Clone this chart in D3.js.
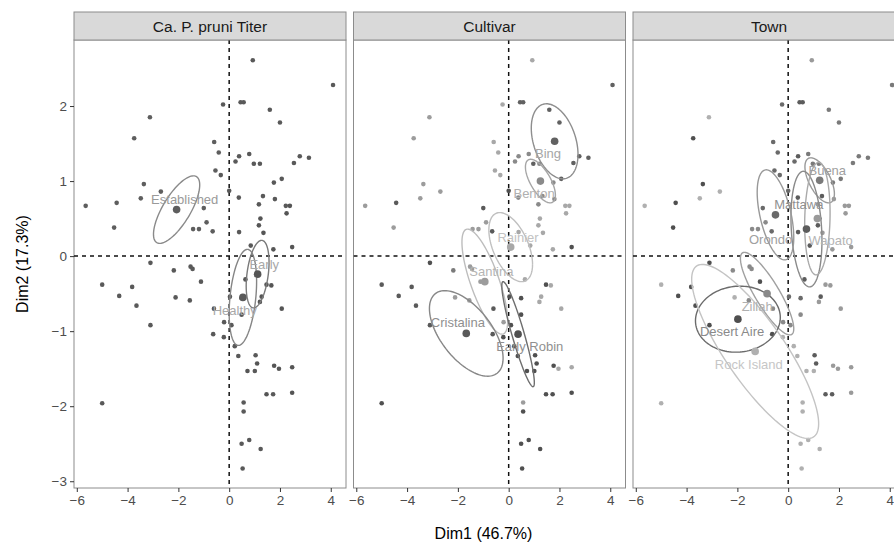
<!DOCTYPE html>
<html lang="en">
<head>
  <meta charset="UTF-8" />
  <title>PCA individuals by group</title>
  <script src="https://d3js.org/d3.v7.min.js"></script>
  <style>
    body { margin: 0; background: #fff; }
    text { font-family: "Liberation Sans", Arial, sans-serif; }
    .tick text { fill: #4d4d4d; font-size: 13.5px; }
    .tick line { stroke: #333; }
    .domain { display: none; }
    .strip-label { font-size: 15.5px; fill: #1a1a1a; }
    .axis-title { font-size: 16px; fill: #000; }
    .grp-label { font-size: 13px; }
  </style>
</head>
<body>
<script>
  // individuals (Dim1, Dim2)
  const dim1 = [0.93, 4.09, -3.12, -3.74, -0.24, 0.45, 0.57, 1.6, 2.0, -0.59,
                -0.41, 0.39, 0.25, 0.79, 0.97, 1.21, 2.78, 3.14, 2.55, -0.54,
                -0.33, 1.76, 2.07, -3.36, -2.69, -3.48, -4.43, -5.65, -1.0, 0.0,
                0.38, 1.33, 1.17, 1.8, 2.23, 2.39, 2.26, 1.23, 1.17, 1.35,
                -0.89, -1.42, -1.19, -0.65, 0.39, -4.53, 1.74, 2.48, 0.85, -3.1,
                -2.18, -1.52, -1.44, -5.0, -3.82, -4.33, -3.65, -2.11, -1.55, -1.11,
                -3.1, -0.6, -0.2, 0.09, -0.63, -0.21, 0.22, 0.64, 0.49, 0.03,
                0.49, 1.47, 1.66, 1.28, 1.21, 2.07, 0.36, 1.04, 1.1, 0.72,
                1.01, 1.77, 1.96, 2.48, 1.47, 1.73, 2.48, -5.0, 0.57, 0.57,
                0.49, 0.79, 1.24, 0.53];
  const dim2 = [2.61, 2.28, 1.85, 1.57, 2.02, 2.05, 2.05, 1.95, 1.78, 1.52,
                1.38, 1.33, 1.26, 1.36, 1.23, 1.23, 1.33, 1.31, 1.24, 1.14,
                1.08, 0.98, 1.03, 0.96, 0.86, 0.77, 0.71, 0.67, 0.64, 0.87,
                0.78, 0.80, 0.69, 0.76, 0.67, 0.67, 0.57, 0.50, 0.41, 0.31,
                0.45, 0.36, 0.36, 0.33, 0.32, 0.38, 0.09, 0.12, 0.14, -0.09,
                -0.19, -0.14, -0.17, -0.38, -0.41, -0.53, -0.66, -0.55, -0.59, -0.34,
                -0.92, -0.70, -0.88, -0.92, -1.04, -1.08, -1.2, -0.31, -0.56, -0.54,
                -0.78, -0.38, -0.39, -0.54, -0.61, -0.70, -1.33, -1.32, -1.43, -1.53,
                -1.53, -1.46, -1.5, -1.48, -1.84, -1.84, -1.82, -1.96, -1.95, -2.07,
                -2.5, -2.45, -2.57, -2.83];

  // group of each individual, one letter per individual, per facet
  const titerOf    = "HHTTHHHHHTTHHHHHHHHTHHHTTTTTTHHHHHHAAAAATTTTHTAAHHHHHHHHHHHHHHHHHHHAHHHAAAAAHHAAHAAAAHAHHHHHHH";
  const cultivarOf = "RBSSRBBBBRRNNNBNBBBRRNBSSSCSCENNNNRRRRRRSSSCRSREREFSSCCCCSSSCCSECEEREEEERRRREEEEEERREEEESEEEEEE";
  const townOf     = "WLIDOMMLLOOMOLLLLLLOOLLDIIDIOOMMWWWWWMMWZZZOMDWWMDZZZIDDDIZDDZZZDIIMOOZWWMWWIMMIIWWWMMWIIIIIII";

  const facets = ["Ca. P. pruni Titer", "Cultivar", "Town"];

  // group names, centroids, label positions, ellipse shapes (sd-like, correlation)
  const titerGroups = [
    { key: "T", name: "Established", cx: -2.07, cy: 0.62, lx: -1.75, ly: 0.76, sx: 0.91, sy: 0.45, r: 0.73, col: "#5e5e5e", line: "#8a8a8a", txt: "#9a9a9a" },
    { key: "A", name: "Early",       cx: 1.12,  cy: -0.24, lx: 1.38, ly: -0.11, sx: 0.45, sy: 0.45, r: 0.35, col: "#555555", line: "#7a7a7a", txt: "#a8a8a8" },
    { key: "H", name: "Healthy",     cx: 0.54,  cy: -0.55, lx: 0.22, ly: -0.72, sx: 0.54, sy: 0.64, r: 0.33, col: "#595959", line: "#858585", txt: "#a8a8a8" }
  ];
  const cultivarGroups = [
    { key: "B", name: "Bing",        cx: 1.81, cy: 1.53, lx: 1.55, ly: 1.37, sx: 0.92, sy: 0.5, r: -0.35, col: "#616161", line: "#8e8e8e", txt: "#a6a6a6" },
    { key: "N", name: "Benton",      cx: 1.25, cy: 1.0, lx: 1.0, ly: 0.84, sx: 0.59, sy: 0.29, r: -0.65, col: "#8a8a8a", line: "#a6a6a6", txt: "#b0b0b0" },
    { key: "R", name: "Rainier",     cx: 0.08, cy: 0.12, lx: 0.37, ly: 0.25, sx: 0.86, sy: 0.46, r: -0.5, col: "#a8a8a8", line: "#c0c0c0", txt: "#c2c2c2" },
    { key: "S", name: "Santina",     cx: -0.94, cy: -0.34, lx: -0.68, ly: -0.21, sx: 0.9, sy: 0.7, r: -0.75, col: "#9c9c9c", line: "#bdbdbd", txt: "#b5b5b5" },
    { key: "C", name: "Cristalina",  cx: -1.67, cy: -1.03, lx: -2.0, ly: -0.89, sx: 1.45, sy: 0.57, r: -0.58, col: "#5a5a5a", line: "#878787", txt: "#8f8f8f" },
    { key: "E", name: "Early Robin", cx: 0.37, cy: -1.04, lx: 0.83, ly: -1.21, sx: 0.64, sy: 0.7, r: -0.92, col: "#505050", line: "#6e6e6e", txt: "#909090" },
    { key: "F", name: "", cx: 0, cy: 0, lx: 0, ly: 0, sx: 0, sy: 0, r: 0, col: "#7a7a7a", line: "none", txt: "none" }
  ];
  const townGroups = [
    { key: "L", name: "Buena",       cx: 1.24, cy: 1.01, lx: 1.54, ly: 1.14, sx: 0.58, sy: 0.3, r: -0.6, col: "#7a7a7a", line: "#9a9a9a", txt: "#a0a0a0" },
    { key: "M", name: "Mattawa",     cx: 0.72, cy: 0.36, lx: 0.42, ly: 0.69, sx: 0.61, sy: 0.77, r: -0.2, col: "#5c5c5c", line: "#8a8a8a", txt: "#909090" },
    { key: "O", name: "Orondo",      cx: -0.5, cy: 0.55, lx: -0.69, ly: 0.22, sx: 0.72, sy: 0.6, r: -0.5, col: "#6a6a6a", line: "#999999", txt: "#a0a0a0" },
    { key: "W", name: "Wapato",      cx: 1.15, cy: 0.5, lx: 1.67, ly: 0.21, sx: 0.5, sy: 0.75, r: 0.1, col: "#9a9a9a", line: "#aaaaaa", txt: "#b5b5b5" },
    { key: "Z", name: "Zillah",      cx: -0.83, cy: -0.5, lx: -1.22, ly: -0.67, sx: 1.05, sy: 0.55, r: -0.85, col: "#8a8a8a", line: "#a0a0a0", txt: "#b0b0b0" },
    { key: "D", name: "Desert Aire", cx: -1.98, cy: -0.84, lx: -2.21, ly: -1.0, sx: 1.67, sy: 0.44, r: 0.05, col: "#4f4f4f", line: "#6b6b6b", txt: "#8a8a8a" },
    { key: "I", name: "Rock Island", cx: -1.3, cy: -1.27, lx: -1.55, ly: -1.44, sx: 2.5, sy: 1.16, r: -0.83, col: "#b0b0b0", line: "#c4c4c4", txt: "#c6c6c6" }
  ];

  const xTicks = [-6, -4, -2, 0, 2, 4];
  const yTicks = [-3, -2, -1, 0, 1, 2];

  const W = 894, H = 546;
  const panelLeft0 = 74, panelW = 272, panelGap = 7.5;
  const stripTop = 12, panelTop = 40, panelBottom = 488;

  const svg = d3.select("body").append("svg")
    .attr("width", W).attr("height", H);

  const x = d3.scaleLinear().domain([-6.11, 4.6]).range([0, panelW]);
  const y = d3.scaleLinear().domain([-3.09, 2.88]).range([panelBottom - panelTop, 0]);

  function ellipsePath(g) {
    const ts = d3.range(0, 2 * Math.PI + 0.01, Math.PI / 60);
    const k = Math.sqrt(1 - g.r * g.r);
    const pts = ts.map(t => [
      x(g.cx + g.sx * Math.cos(t)),
      y(g.cy + g.sy * (g.r * Math.cos(t) + k * Math.sin(t)))
    ]);
    return d3.line()(pts);
  }

  const facetData = [
    { groups: titerGroups, of: titerOf },
    { groups: cultivarGroups, of: cultivarOf },
    { groups: townGroups, of: townOf }
  ];

  facets.forEach((name, i) => {
    const left = panelLeft0 + i * (panelW + panelGap);
    const g = svg.append("g").attr("transform", `translate(${left},${panelTop})`);
    const fd = facetData[i];
    const byKey = new Map(fd.groups.map(d => [d.key, d]));

    // strip
    svg.append("rect")
      .attr("x", left).attr("y", stripTop)
      .attr("width", panelW).attr("height", panelTop - stripTop)
      .attr("fill", "#d9d9d9").attr("stroke", "#8c8c8c").attr("stroke-width", 1);
    svg.append("text")
      .attr("class", "strip-label")
      .attr("x", left + panelW / 2).attr("y", (stripTop + panelTop) / 2 + 5.5)
      .attr("text-anchor", "middle")
      .text(name);

    // panel
    g.append("rect")
      .attr("width", panelW).attr("height", panelBottom - panelTop)
      .attr("fill", "#fff").attr("stroke", "#8c8c8c");

    const clip = "clip" + i;
    g.append("clipPath").attr("id", clip)
      .append("rect").attr("width", panelW).attr("height", panelBottom - panelTop);
    const inner = g.append("g").attr("clip-path", `url(#${clip})`);

    // reference lines
    inner.append("line")
      .attr("x1", x(0)).attr("x2", x(0)).attr("y1", 0).attr("y2", panelBottom - panelTop)
      .attr("stroke", "#111").attr("stroke-width", 1.5).attr("stroke-dasharray", "4,4");
    inner.append("line")
      .attr("x1", 0).attr("x2", panelW).attr("y1", y(0)).attr("y2", y(0))
      .attr("stroke", "#111").attr("stroke-width", 1.5).attr("stroke-dasharray", "4,4");

    // individuals
    inner.selectAll("circle.ind")
      .data(dim1.map((v, j) => ({ x: v, y: dim2[j], grp: fd.of[j] })))
      .join("circle")
        .attr("class", "ind")
        .attr("cx", d => x(d.x)).attr("cy", d => y(d.y))
        .attr("r", 2.3)
        .attr("fill", d => byKey.get(d.grp).col);

    const named = fd.groups.filter(d => d.name);

    // ellipses
    inner.selectAll("path.ell")
      .data(named)
      .join("path")
        .attr("class", "ell")
        .attr("d", ellipsePath)
        .attr("fill", "none")
        .attr("stroke", d => d.line)
        .attr("stroke-width", 1.4);

    // centroids
    inner.selectAll("circle.cen")
      .data(named)
      .join("circle")
        .attr("class", "cen")
        .attr("cx", d => x(d.cx)).attr("cy", d => y(d.cy))
        .attr("r", 3.8)
        .attr("fill", d => d.col);

    // group labels
    inner.selectAll("text.grp-label")
      .data(named)
      .join("text")
        .attr("class", "grp-label")
        .attr("x", d => x(d.lx)).attr("y", d => y(d.ly) + 4.5)
        .attr("text-anchor", "middle")
        .attr("fill", d => d.txt)
        .text(d => d.name);

    // axes
    const xa = g.append("g")
      .attr("transform", `translate(0,${panelBottom - panelTop})`)
      .call(d3.axisBottom(x).tickValues(xTicks).tickSize(4).tickPadding(3).tickFormat(d3.format("")));
    xa.selectAll("text").text(d => d < 0 ? "\u2212" + Math.abs(d) : d);

    if (i === 0) {
      const ya = g.append("g")
        .call(d3.axisLeft(y).tickValues(yTicks).tickSize(4).tickPadding(3));
      ya.selectAll("text").text(d => d < 0 ? "\u2212" + Math.abs(d) : d);
    }
  });

  const totalRight = panelLeft0 + 3 * panelW + 2 * panelGap;
  svg.append("text")
    .attr("class", "axis-title")
    .attr("x", (panelLeft0 + totalRight) / 2 - 6).attr("y", 539)
    .attr("text-anchor", "middle")
    .text("Dim1 (46.7%)");

  svg.append("text")
    .attr("class", "axis-title")
    .attr("transform", `translate(28,${(panelTop + panelBottom) / 2}) rotate(-90)`)
    .attr("text-anchor", "middle")
    .text("Dim2 (17.3%)");
</script>
</body>
</html>
